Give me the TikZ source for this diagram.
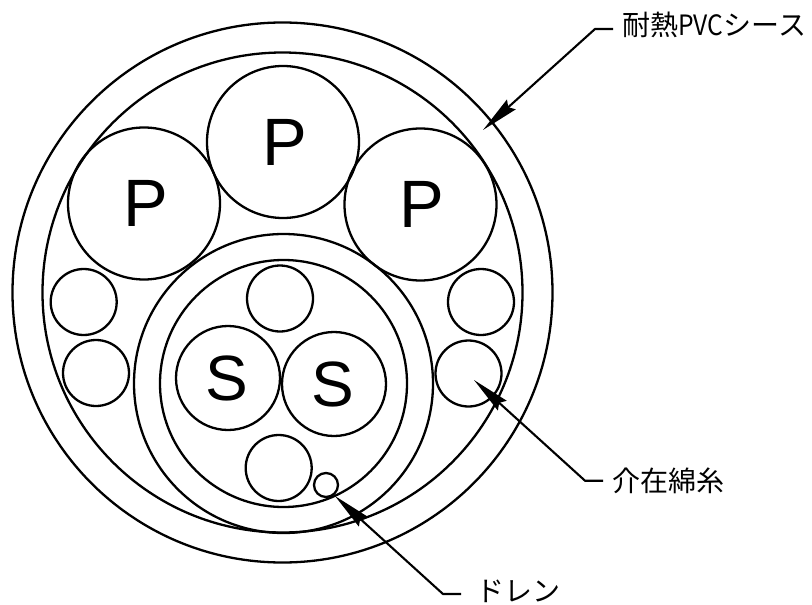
\documentclass[tikz,border=0pt]{standalone}
\usepackage{fontspec}
\setmainfont{Liberation Sans}
\newfontfamily\cjk{Noto Sans CJK JP}
\usetikzlibrary{arrows.meta}
\tikzset{
  ring/.style={circle,draw=black,line width=2.3pt,inner sep=0pt,outer sep=0pt,fill=none},
  bigtxt/.style={font=\fontsize{67}{67}\selectfont,text=black},
  stxt/.style={font=\fontsize{64}{64}\selectfont,text=black},
  lbl/.style={anchor=base west,inner sep=0pt,font=\cjk\fontsize{28}{28}\selectfont,text=black},
  leader/.style={draw=black,line width=2.1pt,-{Stealth[length=38pt,width=13pt,inset=4pt]},line join=miter}
}
\begin{document}
\begin{tikzpicture}[x=1pt,y=-1pt]
\useasboundingbox (0,0) rectangle (812,605);
\node[ring,minimum size=540pt] (sheath) at (282.5,292.5) {};
\node[ring,minimum size=480pt] (inner) at (282.5,292.5) {};
\node[ring,minimum size=299pt] (shield) at (283.5,383.5) {};
\node[ring,minimum size=247pt] (core) at (283.5,383.5) {};
\node[ring,minimum size=152pt,bigtxt] (p1) at (283,142) {\kern3pt P};
\node[ring,minimum size=152pt,bigtxt] (p2) at (144,203.5) {\kern3pt P};
\node[ring,minimum size=152pt,bigtxt] (p3) at (420.5,204.5) {\kern3pt P};
\node[ring,minimum size=66pt] (f1) at (83.7,302) {};
\node[ring,minimum size=66pt] (f2) at (96,373) {};
\node[ring,minimum size=66pt] (f3) at (481,302) {};
\node[ring,minimum size=66pt] (f4) at (468.5,373.5) {};
\node[ring,minimum size=66pt] (c1) at (280,298.5) {};
\node[ring,minimum size=66pt] (c2) at (278.7,468) {};
\node[ring,minimum size=104pt,stxt] (s1) at (228,378) {S\kern3pt};
\node[ring,minimum size=104pt,stxt] (s2) at (334,384) {S\kern3pt};
\node[ring,minimum size=24pt] (drain) at (326,485) {};
\node[lbl] (t1) at (622,35) {耐熱\scalebox{0.88}[1]{PVC}シース};
\node[lbl] (t2) at (612,491) {介在綿糸};
\node[lbl] (t3) at (476,601) {ドレン};
\coordinate (e1) at (613,29);
\coordinate (b1) at (595,29);
\coordinate (a1) at (483,130);
\coordinate (e2) at (603,480.7);
\coordinate (b2) at (585,480.7);
\coordinate (a2) at (474,380);
\coordinate (e3) at (461,594);
\coordinate (b3) at (443,594);
\coordinate (a3) at (335,496);
\draw[leader] (e1) -- (b1) -- (a1);
\draw[leader] (e2) -- (b2) -- (a2);
\draw[leader] (e3) -- (b3) -- (a3);
\end{tikzpicture}
\end{document}
